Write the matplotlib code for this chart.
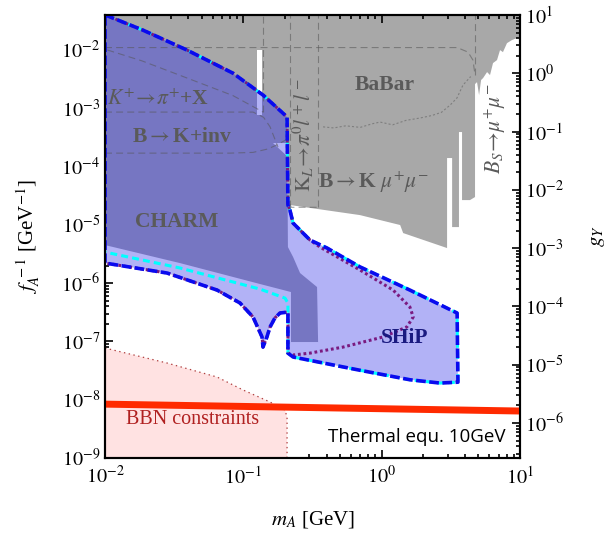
import numpy as np
import matplotlib
matplotlib.use("Agg")
import matplotlib.pyplot as plt
from matplotlib.ticker import LogLocator, NullFormatter, FuncFormatter, FixedLocator

plt.rcParams['font.family'] = ['Liberation Serif', 'DejaVu Serif']
plt.rcParams['mathtext.fontset'] = 'stix'
plt.rcParams['lines.scale_dashes'] = False

# --- data (m_A in GeV, f_A^-1 in GeV^-1) ---
# SHiP outer contour, split into pieces
ship_top_m = [0.01, 0.0188, 0.0392, 0.0841, 0.139, 0.207, 0.210]
ship_top_f = [0.04, 0.0219, 9.95e-3, 4.0e-3, 1.68e-3, 7.1e-4, 2.2e-5]
ship_right_m = [0.217, 0.229, 0.303, 0.403, 0.697, 1.60, 3.51, 3.56]
ship_right_f = [1.8e-5, 1.07e-5, 5.5e-6, 4.0e-6, 1.9e-6, 7.6e-7, 3.07e-7, 2.0e-8]
ship_bottom_m = [2.64, 1.60, 0.697, 0.229, 0.210, 0.210]
ship_bottom_f = [1.93e-8, 2.2e-8, 3.2e-8, 5.4e-8, 6.3e-8, 3.19e-7]
ship_left_m = [0.184, 0.169, 0.156, 0.148, 0.1387, 0.1365, 0.1175, 0.0946, 0.0646, 0.0281, 0.01]
ship_left_f = [3.07e-7, 2.52e-7, 1.77e-7, 1.19e-7, 8.0e-8, 1.19e-7, 2.62e-7, 4.56e-7, 7.6e-7, 1.49e-6, 2.21e-6]

# second contour (cyan): differs only on the lower-left edge
cyan_left_m = [0.210, 0.200, 0.132, 0.0348, 0.01]
cyan_left_f = [4.56e-7, 5.54e-7, 7.9e-7, 1.82e-6, 3.41e-6]

# third contour (purple dotted): differs on the right side
purple_right_m = [0.217, 0.229, 0.303, 0.358, 0.697, 1.21, 1.60, 1.69, 1.52, 1.02, 0.526, 0.303, 0.229]
purple_right_f = [1.8e-5, 1.07e-5, 5.5e-6, 4.16e-6, 1.68e-6, 7.6e-7, 3.89e-7, 2.62e-7, 1.77e-7,
                  1.19e-7, 8.0e-8, 6.3e-8, 5.85e-8]

# CHARM excluded region
charm_m = [0.01, 0.0188, 0.0392, 0.0841, 0.139, 0.207, 0.210, 0.229, 0.257, 0.341, 0.347,
           0.221, 0.221, 0.132, 0.0348, 0.01]
charm_f = [0.04, 0.0219, 9.95e-3, 4.0e-3, 1.68e-3, 7.1e-4, 4.16e-6, 2.8e-6, 1.49e-6, 8.57e-7,
           9.77e-8, 9.77e-8, 7.04e-7, 9.66e-7, 2.21e-6, 4.5e-6]

# other experiments (BaBar, B->K mu mu, K_L, B_s), grey
grey_m = [0.01, 10.0, 10.0, 9.5, 8.75, 8.05, 7.53, 7.17, 6.82, 6.38, 6.07, 5.78, 5.41, 5.23,
          5.06, 4.89, 4.73, 4.73, 4.35, 3.81, 3.81, 3.62, 3.62, 3.23, 3.23, 2.97, 2.97, 1.43,
          1.36, 0.697, 0.217, 0.210, 0.01]
grey_f = [0.05, 0.05, 0.01664, 0.0160, 0.0148, 0.0131, 9.2e-3, 9.95e-3, 6.71e-3, 5.96e-3,
          3.71e-3, 4.18e-3, 3.30e-3, 3.05e-3, 1.68e-3, 2.81e-3, 2.60e-3, 3.0e-5, 2.66e-5,
          2.66e-5, 3.91e-4, 3.91e-4, 9.16e-6, 9.16e-6, 1.40e-4, 1.40e-4, 4.0e-6, 7.23e-6,
          9.93e-6, 1.47e-5, 2.19e-5, 2.19e-5, 1e-5]

# gaps
slit_m = [0.125, 0.1365]
slit_f = [1.82e-3, 9.95e-3]
gap_m = [0.125, 0.1365]
gap_f = [7.6e-4, 1.82e-3]
tri_m = [0.1637, 0.210, 0.210]
tri_f = [2.53e-4, 2.53e-4, 1.46e-4]

# BBN constraints
bbn_m = [0.01, 0.0281, 0.0646, 0.0995, 0.156, 0.200, 0.207, 0.207]
bbn_f = [7.7e-8, 4.26e-8, 2.45e-8, 1.47e-8, 9.13e-9, 6.66e-9, 5.0e-9, 1e-9]

# thermal equilibrium line
therm_m = [0.01, 10.0]
therm_f = [8.4e-9, 6.4e-9]

# faint dashed limits inside the shaded areas
kpi_m = [0.01, 0.1175, 0.14, 0.156, 0.178]
kpi_f = [8.6e-4, 8.6e-4, 7.0e-4, 4.8e-4, 2.16e-4]
binv_m = [0.01, 0.08, 0.1175, 0.15, 0.174, 0.21]
binv_f = [1.7e-4, 1.7e-4, 1.75e-4, 2.0e-4, 2.34e-4, 3.0e-4]
diag_m = [0.0104, 0.0185, 0.0392, 0.0841, 0.139]
diag_f = [1.0e-2, 6.5e-3, 3.3e-3, 1.65e-3, 8.6e-4]
btop_m = [0.01, 3.51, 4.21, 4.57, 4.73]
btop_f = [1.1e-2, 1.1e-2, 9.2e-3, 6.7e-3, 3.7e-3]
babar_m = [0.377, 0.45, 0.55, 0.7, 0.85, 0.973, 1.2, 1.5, 1.89, 2.3, 2.7, 3.12, 3.5, 3.87, 4.4]
babar_f = [4.8e-4, 4.6e-4, 5.0e-4, 4.7e-4, 5.4e-4, 5.8e-4, 5.2e-4, 6.2e-4, 6.8e-4, 7.5e-4,
           8.5e-4, 1.13e-3, 1.5e-3, 2.5e-3, 3.5e-3]
vlines_m = [0.139, 0.217, 0.347, 4.73]
vlines_fmin = [8.6e-4, 2.0e-5, 2.0e-5, 3.7e-3]

x_ticks = [1e-2, 1e-1, 1e0, 1e1]
yl_ticks = [1e-9, 1e-8, 1e-7, 1e-6, 1e-5, 1e-4, 1e-3, 1e-2]
yr_ticks = [1e-6, 1e-5, 1e-4, 1e-3, 1e-2, 1e-1, 1e0, 1e1]
ylim_left = (1e-9, 10 ** -1.4)
ylim_right = (10 ** -6.6, 10.0)

fig = plt.figure(figsize=(6.06, 5.34), dpi=100)
ax = fig.add_axes([0.1733, 0.1423, 0.6848, 0.8296])
ax.set_xscale('log')
ax.set_yscale('log')

lav = '#b2b2f6'
dark = '#7676c2'
grey = '#a8a8a8'

ax.fill(grey_m, grey_f, color=grey, lw=0, zorder=1)

ship_m = ship_top_m + ship_right_m + ship_bottom_m + ship_left_m
ship_f = ship_top_f + ship_right_f + ship_bottom_f + ship_left_f
ax.fill(ship_m, ship_f, color=lav, lw=0, zorder=2)
ax.fill(charm_m, charm_f, color=dark, lw=0, zorder=3)
ax.fill([gap_m[0], gap_m[1], gap_m[1], gap_m[0]], [gap_f[0], gap_f[0], gap_f[1], gap_f[1]],
        color=lav, lw=0, zorder=3.5)
ax.fill(tri_m, tri_f, color=lav, lw=0, zorder=3.5)
ax.fill([slit_m[0], slit_m[1], slit_m[1], slit_m[0]], [slit_f[0], slit_f[0], slit_f[1], slit_f[1]],
        color='white', lw=0, zorder=3.5)

# faint dashed limits
fl = dict(color='#555555', lw=0.8, alpha=0.55, dashes=(5, 3), zorder=4)
ax.plot(kpi_m, kpi_f, **fl)
ax.plot(binv_m, binv_f, **fl)
ax.plot(diag_m, diag_f, **fl)
ax.plot(btop_m, btop_f, **fl)
ax.plot(babar_m, babar_f, color='#555555', lw=0.8, alpha=0.5, dashes=(1.5, 1.5), zorder=4)
for m, fmin in zip(vlines_m, vlines_fmin):
    ax.plot([m, m], [fmin, 0.05], **fl)
ax.plot([0.217, 0.222, 0.34, 0.347], [2.3e-5, 2.0e-5, 2.0e-5, 2.3e-5], **fl)

# BBN
ax.fill(bbn_m + [0.01], bbn_f + [1e-9], color='#ffe2e2', lw=0, zorder=2)
ax.plot(bbn_m, bbn_f, color='#b04040', lw=0.9, dashes=(1, 2.5), zorder=4)

# SHiP contours
cyan_m = ship_top_m + ship_right_m + ship_bottom_m[:-1] + cyan_left_m
cyan_f = ship_top_f + ship_right_f + ship_bottom_f[:-1] + cyan_left_f
purple_m = ship_top_m + purple_right_m + ship_bottom_m[-2:] + ship_left_m
purple_f = ship_top_f + purple_right_f + ship_bottom_f[-2:] + ship_left_f
ax.plot(cyan_m, cyan_f, color='#00ffff', lw=2.2, dashes=(5, 3), zorder=5)
ax.plot(purple_m, purple_f, color='#7a1a80', lw=2.2, dashes=(2, 2), zorder=5)
ax.plot(ship_m + [ship_m[0]], ship_f + [ship_f[0]], color='#0a0aee', lw=2.6,
        dashes=(7, 2.5), zorder=6)

ax.plot(therm_m, therm_f, color='#ff2a00', lw=5, solid_capstyle='butt', zorder=6)

# labels
tk = dict(color='#5a5a5a', fontsize=15.5, fontweight='bold', ha='center', va='center', zorder=7)
ax.text(0.0242, 1.38e-3, r'$K^{+}\!\rightarrow\!\pi^{+}$+X', **tk)
ax.text(0.0361, 3.2e-4, r'B$\rightarrow$K+inv', **tk)
ax.text(0.0331, 1.12e-5, 'CHARM', **tk)
ax.text(1.06, 2.5e-3, 'BaBar', **tk)
ax.text(0.865, 5.4e-5, r'B$\rightarrow$K $\mu^{+}\mu^{-}$', **tk)
ax.text(0.27, 3.47e-4, r'$\mathrm{K}_L\!\rightarrow\!\pi^0 l^+ l^-$', color='#5a5a5a',
        fontsize=15.5, rotation=90, ha='center', va='center', zorder=7)
ax.text(6.59, 4.57e-4, r'$B_S\!\rightarrow\!\mu^{+}\mu^{-}$', color='#5a5a5a',
        fontsize=15.5, rotation=90, ha='center', va='center', zorder=7)
ax.text(1.475, 1.14e-7, 'SHiP', color='#1a1a80', fontsize=15.5, fontweight='bold',
        ha='center', va='center', zorder=7)
ax.text(0.0432, 4.5e-9, 'BBN constraints', color='#b02020', fontsize=14.5,
        ha='center', va='center', zorder=7)
ax.text(1.80, 2.3e-9, 'Thermal equ. 10GeV', family=['Open Sans', 'DejaVu Sans'],
        fontsize=13.5, ha='center', va='center', zorder=7)

ax.set_xlim(0.01, 10)
ax.set_ylim(*ylim_left)
ax.set_xlabel(r'$m_A$ [GeV]', fontsize=15)
ax.xaxis.set_label_coords(0.5, -0.115)
ax.set_ylabel(r'$f_A^{\ -1}$ [GeV$^{-1}$]', fontsize=15)
ax.yaxis.set_label_coords(-0.152, 0.5)

ax2 = ax.twinx()
ax2.set_yscale('log')
ax2.set_ylim(*ylim_right)
ax2.set_ylabel(r'$g_Y$', fontsize=15)
ax2.yaxis.set_label_coords(1.163, 0.5)

pow10 = FuncFormatter(lambda v, p: r'$10^{%d}$' % round(np.log10(v)))
for a in (ax, ax2):
    a.tick_params(which='both', direction='in', labelsize=14.5, width=1.2)
    a.tick_params(which='major', length=6)
    a.tick_params(which='minor', length=3)
    for s in a.spines.values():
        s.set_linewidth(1.5)
ax.tick_params(axis='x', pad=6)
ax.tick_params(top=True, right=False, which='both')
ax2.tick_params(left=False, which='both')
ax.xaxis.set_major_locator(FixedLocator(x_ticks))
ax.xaxis.set_minor_locator(LogLocator(base=10, subs=np.arange(2, 10), numticks=20))
ax.xaxis.set_minor_formatter(NullFormatter())
ax.xaxis.set_major_formatter(pow10)
ax.yaxis.set_major_locator(FixedLocator(yl_ticks))
ax2.yaxis.set_major_locator(FixedLocator(yr_ticks))
for a in (ax, ax2):
    a.yaxis.set_major_formatter(pow10)
    a.yaxis.set_minor_locator(LogLocator(base=10, subs=np.arange(2, 10), numticks=20))
    a.yaxis.set_minor_formatter(NullFormatter())

fig.savefig('out.png', dpi=100)
